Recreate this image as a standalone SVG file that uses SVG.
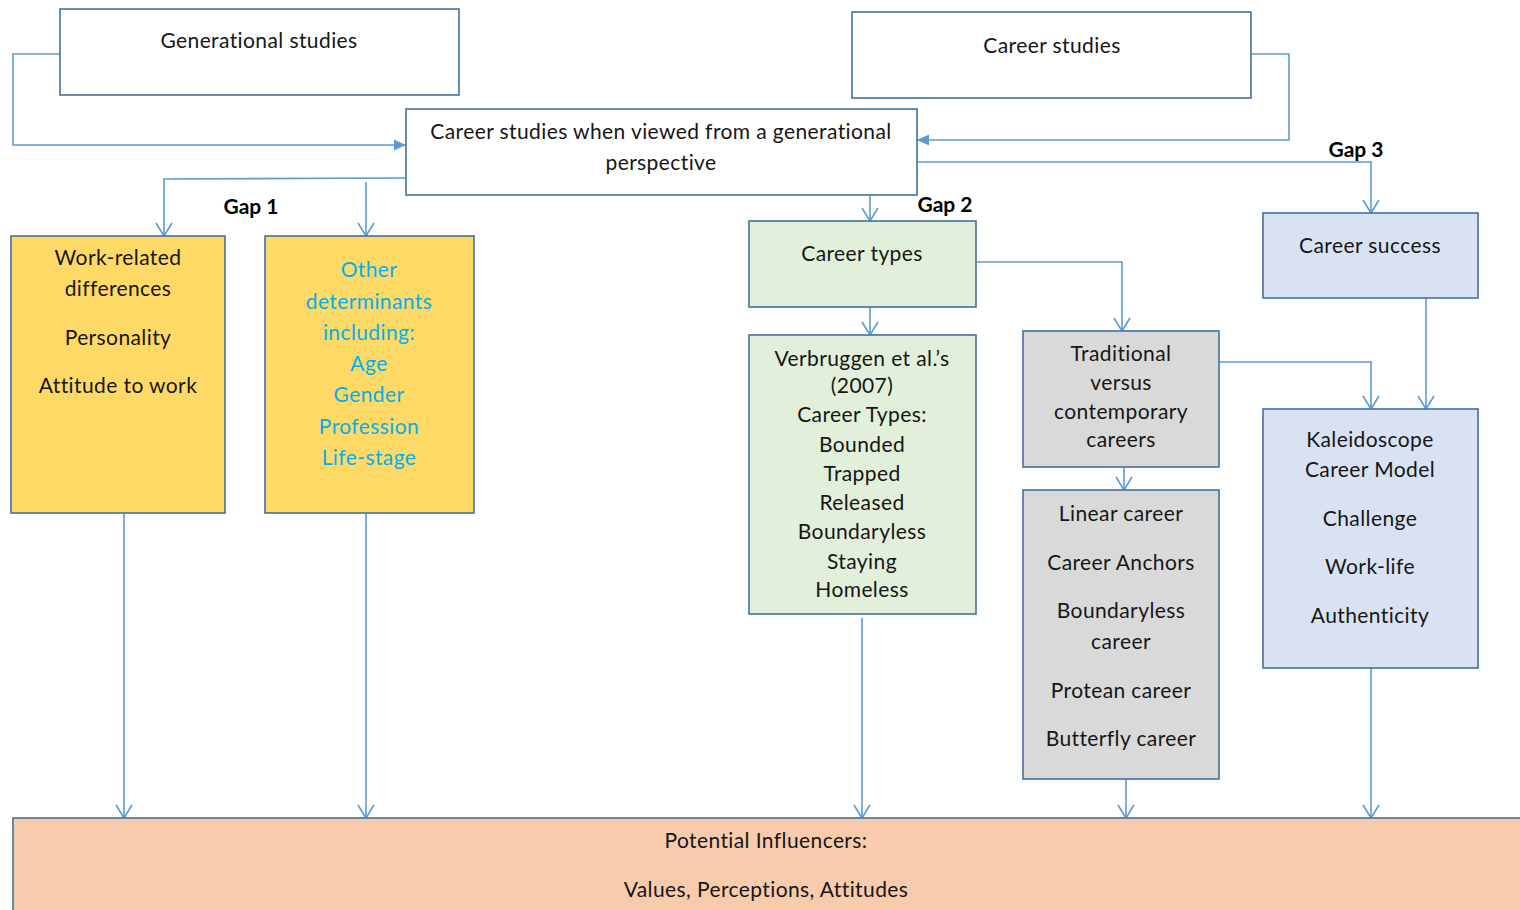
<svg xmlns="http://www.w3.org/2000/svg" width="1520" height="910" viewBox="0 0 1520 910">
  <style>
    .box { stroke: #41719C; stroke-width: 1.6; }
    .white { fill: #FFFFFF; }
    .yellow { fill: #FFD966; }
    .green { fill: #E2EFDA; }
    .grey { fill: #D9D9D9; }
    .blue { fill: #D9E2F3; }
    .salmon { fill: #F8CBAD; }
    .t { font-family: Lato, "Open Sans", "Liberation Sans", sans-serif; font-size: 21px; letter-spacing: 0.4px; fill: #161616; text-anchor: middle; }
    .cyan { fill: #00B0F0; }
    .gap { font-family: Lato, "Liberation Sans", sans-serif; font-size: 21px; font-weight: bold; fill: #000; text-anchor: middle; }
    .link { fill: none; stroke: #5B9BD5; stroke-width: 1.6; }
    .open { marker-end: url(#vee); }
    .solid { marker-end: url(#tri); }
  </style>
  <defs>
    <marker id="vee" markerUnits="userSpaceOnUse" orient="auto" refX="0" refY="0" markerWidth="20" markerHeight="20" overflow="visible">
      <path d="M-13,-8 L0,0 L-13,8" fill="none" stroke="#5B9BD5" stroke-width="1.6"/>
    </marker>
    <marker id="tri" markerUnits="userSpaceOnUse" orient="auto" refX="0" refY="0" markerWidth="20" markerHeight="20" overflow="visible">
      <path d="M-12,-5.5 L0,0 L-12,5.5 Z" fill="#5B9BD5"/>
    </marker>
  </defs>

  <!-- connectors -->
  <g id="connectors">
    <polyline class="link solid" points="60,54 13,54 13,145 406,145"/>
    <polyline class="link solid" points="1251,54 1289,54 1289,140 917,140"/>
    <polyline class="link open" points="917,162 1371,162 1371,213"/>
    <polyline class="link open" points="406,178 164,179 164,236"/>
    <polyline class="link open" points="366,182 366,236"/>
    <polyline class="link open" points="870,195 870,221"/>
    <polyline class="link open" points="870,307 870,335"/>
    <polyline class="link open" points="977,262 1122,262 1122,331"/>
    <polyline class="link open" points="1124,467 1124,490"/>
    <polyline class="link open" points="1219,362 1371,362 1371,409"/>
    <polyline class="link open" points="1426,298 1426,409"/>
    <polyline class="link open" points="124,513 124,818"/>
    <polyline class="link open" points="366,513 366,818"/>
    <polyline class="link open" points="862,618 862,818"/>
    <polyline class="link open" points="1126,779 1126,818"/>
    <polyline class="link open" points="1371,668 1371,818"/>
  </g>

  <g id="gap-labels">
    <text class="gap" x="251" y="214">Gap 1</text>
    <text class="gap" x="945" y="212">Gap 2</text>
    <text class="gap" x="1356" y="157">Gap 3</text>
  </g>

  <g id="generational-studies">
    <rect class="box white" x="60" y="9" width="399" height="86"/>
    <text class="t" x="259" y="48">Generational studies</text>
  </g>

  <g id="career-studies">
    <rect class="box white" x="852" y="12" width="399" height="86"/>
    <text class="t" x="1052" y="53">Career studies</text>
  </g>

  <g id="generational-perspective">
    <rect class="box white" x="406" y="109" width="511" height="86"/>
    <text class="t" x="661" y="139">Career studies when viewed from a generational</text>
    <text class="t" x="661" y="170">perspective</text>
  </g>

  <g id="work-related">
    <rect class="box yellow" x="11" y="236" width="214" height="277"/>
    <text class="t" x="118" y="265">Work-related</text>
    <text class="t" x="118" y="296">differences</text>
    <text class="t" x="118" y="345">Personality</text>
    <text class="t" x="118" y="393">Attitude to work</text>
  </g>

  <g id="other-determinants">
    <rect class="box yellow" x="265" y="236" width="209" height="277"/>
    <text class="t cyan" x="369" y="277">Other</text>
    <text class="t cyan" x="369" y="309">determinants</text>
    <text class="t cyan" x="369" y="340">including:</text>
    <text class="t cyan" x="369" y="371">Age</text>
    <text class="t cyan" x="369" y="402">Gender</text>
    <text class="t cyan" x="369" y="434">Profession</text>
    <text class="t cyan" x="369" y="465">Life-stage</text>
  </g>

  <g id="career-types">
    <rect class="box green" x="749" y="221" width="227" height="86"/>
    <text class="t" x="862" y="261">Career types</text>
  </g>

  <g id="verbruggen">
    <rect class="box green" x="749" y="335" width="227" height="279"/>
    <text class="t" x="862" y="366">Verbruggen et al.’s</text>
    <text class="t" x="862" y="393">(2007)</text>
    <text class="t" x="862" y="422">Career Types:</text>
    <text class="t" x="862" y="452">Bounded</text>
    <text class="t" x="862" y="481">Trapped</text>
    <text class="t" x="862" y="510">Released</text>
    <text class="t" x="862" y="539">Boundaryless</text>
    <text class="t" x="862" y="569">Staying</text>
    <text class="t" x="862" y="597">Homeless</text>
  </g>

  <g id="traditional-contemporary">
    <rect class="box grey" x="1023" y="331" width="196" height="136"/>
    <text class="t" x="1121" y="361">Traditional</text>
    <text class="t" x="1121" y="390">versus</text>
    <text class="t" x="1121" y="419">contemporary</text>
    <text class="t" x="1121" y="447">careers</text>
  </g>

  <g id="career-list">
    <rect class="box grey" x="1023" y="490" width="196" height="289"/>
    <text class="t" x="1121" y="521">Linear career</text>
    <text class="t" x="1121" y="570">Career Anchors</text>
    <text class="t" x="1121" y="618">Boundaryless</text>
    <text class="t" x="1121" y="649">career</text>
    <text class="t" x="1121" y="698">Protean career</text>
    <text class="t" x="1121" y="746">Butterfly career</text>
  </g>

  <g id="career-success">
    <rect class="box blue" x="1263" y="213" width="215" height="85"/>
    <text class="t" x="1370" y="253">Career success</text>
  </g>

  <g id="kaleidoscope">
    <rect class="box blue" x="1263" y="409" width="215" height="259"/>
    <text class="t" x="1370" y="447">Kaleidoscope</text>
    <text class="t" x="1370" y="477">Career Model</text>
    <text class="t" x="1370" y="526">Challenge</text>
    <text class="t" x="1370" y="574">Work-life</text>
    <text class="t" x="1370" y="623">Authenticity</text>
  </g>

  <g id="potential-influencers">
    <rect class="box salmon" x="13" y="818" width="1520" height="100"/>
    <text class="t" x="766" y="848">Potential Influencers:</text>
    <text class="t" x="766" y="897">Values, Perceptions, Attitudes</text>
  </g>
</svg>
